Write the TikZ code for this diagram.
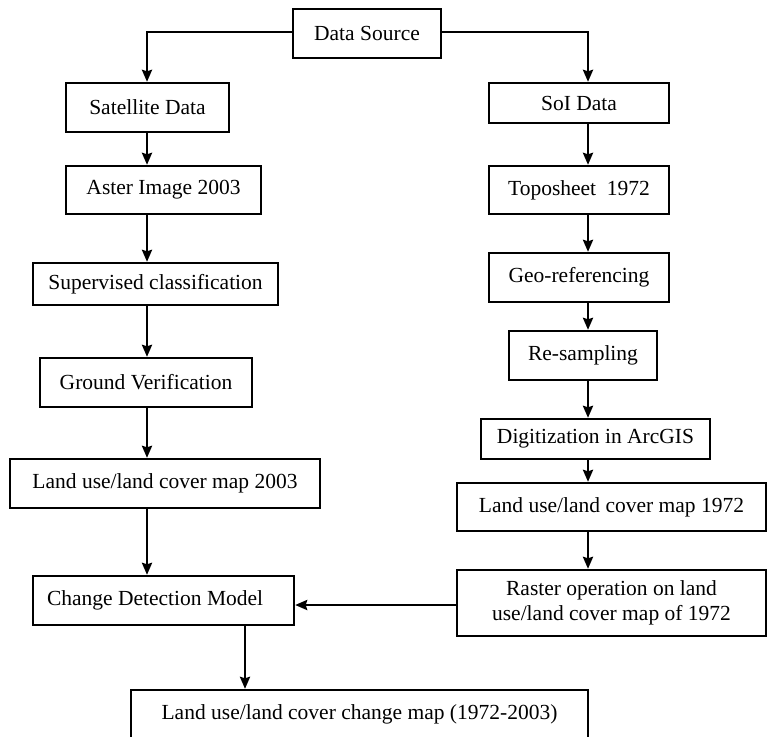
\documentclass[tikz,border=0pt]{standalone}
\usepackage{fontspec}
\setmainfont{Liberation Serif}
\usepackage{tikz}
\usetikzlibrary{arrows.meta, positioning, calc}

\begin{document}
\begin{tikzpicture}[
    x=1pt, y=-1pt,
    box/.style={rectangle, draw, line width=2.3pt, inner sep=2pt, align=center, font=\fontsize{21.5}{25}\selectfont},
    arrow/.style={-{Stealth[length=12pt, width=10pt, inset=1.5pt]}, line width=2.6pt}
]
\useasboundingbox (0,0) rectangle (767,736);

% columns of the connectors
\coordinate (lcol) at (147,0);
\coordinate (rcol) at (588,0);
\coordinate (mcol) at (245,0);

\node[box, minimum width=148pt, minimum height=49pt] (src) at (367,33.5) {Data Source};

% left branch
\node[box, minimum width=163pt, minimum height=49pt] (sat) at (147.5,107.5) {Satellite Data};
\node[box, minimum width=195pt, minimum height=48pt] (aster) at (163.5,190) {Aster Image 2003};
\node[box, minimum width=245pt, minimum height=42pt] (sup) at (155.5,284) {Supervised classification};
\node[box, minimum width=212pt, minimum height=49pt] (ground) at (146,382.5) {Ground Verification};
\node[box, minimum width=310pt, minimum height=49pt] (lu03) at (165,483.5) {Land use/land cover map 2003};
\node[box, text width=233pt, align=flush left, inner xsep=14pt, minimum height=49pt] (cdm) at (163.5,600.5) {Change Detection Model};

% right branch
\node[box, minimum width=180pt, minimum height=40pt] (soi) at (579,103) {SoI Data};
\node[box, minimum width=180pt, minimum height=48pt] (topo) at (579,190) {Toposheet~~1972};
\node[box, minimum width=180pt, minimum height=49pt] (geo) at (579,277.5) {Geo-referencing};
\node[box, minimum width=148pt, minimum height=49pt] (resamp) at (583,355.5) {Re-sampling};
\node[box, minimum width=229pt, minimum height=40pt] (digit) at (595.5,439) {Digitization in ArcGIS};
\node[box, minimum width=309pt, minimum height=48pt] (lu72) at (611.5,507) {Land use/land cover map 1972};
\node[box, minimum width=309pt, minimum height=66pt] (raster) at (611.5,603) {Raster operation on land\\use/land cover map of 1972};

\node[box, minimum width=457pt, minimum height=49pt] (final) at (359.5,714.5) {Land use/land cover change map (1972-2003)};

\draw[arrow] (src.west |- 0,32) -| (sat.north -| lcol);
\draw[arrow] (src.east |- 0,32) -| (soi.north -| rcol);

\draw[arrow] (sat.south -| lcol) -- (aster.north -| lcol);
\draw[arrow] (aster.south -| lcol) -- (sup.north -| lcol);
\draw[arrow] (sup.south -| lcol) -- (ground.north -| lcol);
\draw[arrow] (ground.south -| lcol) -- (lu03.north -| lcol);
\draw[arrow] (lu03.south -| lcol) -- (cdm.north -| lcol);

\draw[arrow] (soi.south -| rcol) -- (topo.north -| rcol);
\draw[arrow] (topo.south -| rcol) -- (geo.north -| rcol);
\draw[arrow] (geo.south -| rcol) -- (resamp.north -| rcol);
\draw[arrow] (resamp.south -| rcol) -- (digit.north -| rcol);
\draw[arrow] (digit.south -| rcol) -- (lu72.north -| rcol);
\draw[arrow] (lu72.south -| rcol) -- (raster.north -| rcol);

\draw[arrow] (raster.west |- 0,605) -- (cdm.east |- 0,605);
\draw[arrow] (cdm.south -| mcol) -- (final.north -| mcol);

\end{tikzpicture}
\end{document}
